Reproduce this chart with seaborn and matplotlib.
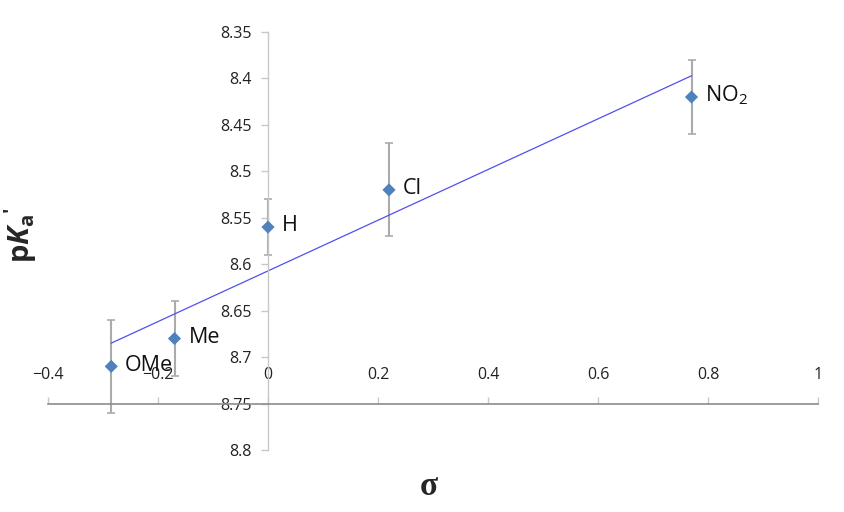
import numpy as np
import pandas as pd
import matplotlib
matplotlib.use("Agg")
import matplotlib.pyplot as plt
import seaborn as sns

# ---- data ----
substituents = ["OMe", "Me", "H", "Cl", "NO$_2$"]
sigma = [-0.285, -0.17, 0.0, 0.22, 0.77]
pka = [8.71, 8.68, 8.56, 8.52, 8.42]
pka_err = [0.05, 0.04, 0.03, 0.05, 0.04]
x_ticks = [-0.4, -0.2, 0.0, 0.2, 0.4, 0.6, 0.8, 1.0]
x_tick_labels = ["\u22120.4", "\u22120.2", "0", "0.2", "0.4", "0.6", "0.8", "1"]
y_ticks = [8.35, 8.40, 8.45, 8.50, 8.55, 8.60, 8.65, 8.70, 8.75, 8.80]
y_tick_labels = ["8.35", "8.4", "8.45", "8.5", "8.55", "8.6", "8.65", "8.7", "8.75", "8.8"]

df = pd.DataFrame({"sigma": sigma, "pka": pka, "err": pka_err, "label": substituents})

sns.set_style("white")
plt.rcParams["font.family"] = ["Open Sans", "DejaVu Sans"]
plt.rcParams["mathtext.fontset"] = "custom"
plt.rcParams["mathtext.rm"] = "Open Sans"
plt.rcParams["mathtext.it"] = "Open Sans:italic"
plt.rcParams["mathtext.bf"] = "Open Sans:bold"
try:
    plt.rcParams["mathtext.bfit"] = "Open Sans:italic:bold"
except Exception:
    pass

fig = plt.figure(figsize=(8.45, 5.12), dpi=100)
ax = fig.add_axes([48 / 845, 62 / 512, 770 / 845, 418 / 512])

# error bars
ax.errorbar(df["sigma"], df["pka"], yerr=df["err"], fmt="none",
            ecolor="#ABABAB", elinewidth=1.5, capsize=2.8, capthick=1.2, zorder=2)

# linear trend line
sns.regplot(data=df, x="sigma", y="pka", scatter=False, ci=None, truncate=True,
            line_kws={"color": "#5050F0", "linewidth": 0.9}, ax=ax)

# markers
sns.scatterplot(data=df, x="sigma", y="pka", marker="D", s=45, color="#4F81BD",
                edgecolor="none", zorder=4, ax=ax, legend=False)

for _, r in df.iterrows():
    ax.annotate(r["label"], (r["sigma"], r["pka"]), xytext=(10, 1),
                textcoords="offset points", va="center", ha="left", fontsize=15.5,
                color="#111111")

ax.set_xlim(-0.4, 1.0)
ax.set_ylim(8.8, 8.35)
ax.set_xticks(x_ticks)
ax.set_xticklabels(x_tick_labels)
ax.set_yticks(y_ticks)
ax.set_yticklabels(y_tick_labels)

ax.spines["top"].set_visible(False)
ax.spines["right"].set_visible(False)
ax.spines["left"].set_position(("data", 0))
ax.spines["bottom"].set_position(("data", 8.75))
ax.spines["left"].set_color("#C8C8C8")
ax.spines["bottom"].set_color("#8C8C8C")
ax.spines["left"].set_linewidth(1.0)
ax.spines["bottom"].set_linewidth(1.2)

ax.tick_params(axis="y", direction="out", length=5, width=1, color="#C8C8C8",
               pad=7, labelsize=11.5, labelcolor="#222222", left=True)
ax.tick_params(axis="x", direction="in", length=5, width=1, color="#C8C8C8",
               pad=-26, labelsize=11.5, labelcolor="#222222", bottom=True)
ax.set_xlabel("")
ax.set_ylabel("")
ax.grid(False)

fig.text(0.024, 0.541, r"$\mathbf{p}\mathbfit{K}_{\mathbf{a}}\mathbf{'}$", rotation=90,
         ha="center", va="center", fontsize=21)
fig.text(0.507, 0.05, "\u03c3", ha="center", va="center", fontsize=24,
         fontweight="bold", family=["Liberation Serif", "DejaVu Serif"])

fig.savefig("out.png", dpi=100)
